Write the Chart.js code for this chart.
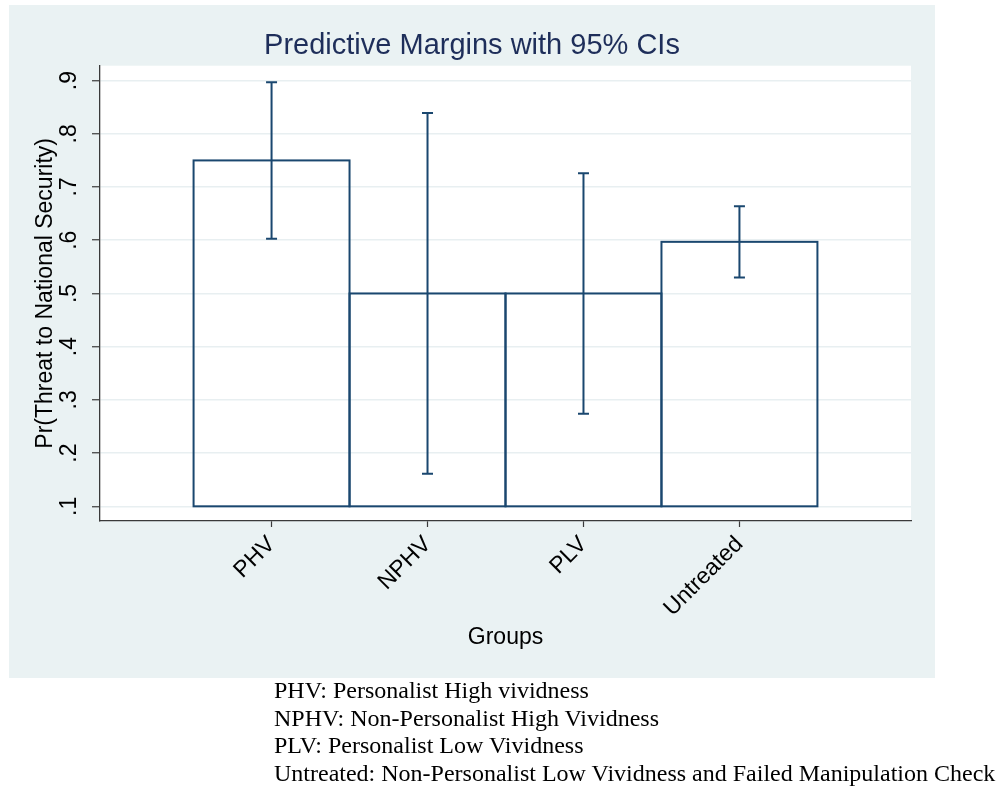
<!DOCTYPE html>
<html>
<head>
<meta charset="utf-8">
<script src="https://cdn.jsdelivr.net/npm/chart.js@4.4.0/dist/chart.umd.min.js"></script>
<style>
  html, body { margin: 0; padding: 0; background: #ffffff; }
  body { width: 999px; height: 789px; position: relative; overflow: hidden; }
  #wrap { position: absolute; left: 9px; top: 5px; width: 926px; height: 673px; background: #eaf2f3; }
  #wrap canvas { display: block; }
  #notes {
    position: absolute; left: 274px; top: 677px;
    font-family: 'Liberation Serif', 'Times New Roman', serif;
    font-size: 24px; line-height: 27.7px; color: #000; white-space: nowrap;
  }
</style>
</head>
<body>
<div id="wrap"><canvas id="chart" width="926" height="673"></canvas></div>
<div id="notes"></div>
<script>
// Predictive margins by treatment group, with 95% confidence limits
const groups  = ['PHV', 'NPHV', 'PLV', 'Untreated'];
const margins = [0.750, 0.500, 0.500, 0.597];
const ciLower = [0.603, 0.161, 0.274, 0.530];
const ciUpper = [0.897, 0.839, 0.726, 0.664];
const barBase = 0.1;
const yTicks  = [0.1, 0.2, 0.3, 0.4, 0.5, 0.6, 0.7, 0.8, 0.9];
const notes = [
  'PHV: Personalist High vividness',
  'NPHV: Non-Personalist High Vividness',
  'PLV: Personalist Low Vividness',
  'Untreated: Non-Personalist Low Vividness and Failed Manipulation Check'
];

document.getElementById('notes').innerHTML = notes.map(n => '<div>' + n + '</div>').join('');

const NAVY = '#1a476f';
const AXIS = '#3a3a3a';
const SANS = "'Liberation Sans', Arial, Helvetica, sans-serif";

// white plot region
const plotBackground = {
  id: 'plotBackground',
  beforeDraw(chart) {
    const { ctx, chartArea: a } = chart;
    ctx.save();
    ctx.fillStyle = '#ffffff';
    ctx.fillRect(a.left, a.top, a.right - a.left, a.bottom - a.top);
    ctx.restore();
  }
};

// hollow bar outlines and confidence-interval whiskers
const barsAndWhiskers = {
  id: 'barsAndWhiskers',
  afterDatasetsDraw(chart) {
    const { ctx } = chart;
    const xs = chart.scales.x, ys = chart.scales.y;
    const meta = chart.getDatasetMeta(0);
    ctx.save();
    ctx.strokeStyle = NAVY;
    ctx.lineWidth = 2;
    meta.data.forEach(bar => {
      const p = bar.getProps(['x', 'y', 'base', 'width'], true);
      const l = p.x - p.width / 2;
      ctx.strokeRect(l, p.y, p.width, p.base - p.y);
    });
    const cap = 5.5;
    groups.forEach((g, i) => {
      const x = xs.getPixelForValue(i + 1);
      const yl = ys.getPixelForValue(ciLower[i]);
      const yh = ys.getPixelForValue(ciUpper[i]);
      ctx.beginPath();
      ctx.moveTo(x, yl); ctx.lineTo(x, yh);
      ctx.moveTo(x - cap, yl); ctx.lineTo(x + cap, yl);
      ctx.moveTo(x - cap, yh); ctx.lineTo(x + cap, yh);
      ctx.stroke();
    });
    ctx.restore();
  }
};

new Chart(document.getElementById('chart'), {
  type: 'bar',
  data: {
    datasets: [{
      data: margins.map((m, i) => ({ x: i + 1, y: [barBase, m] })),
      backgroundColor: 'rgba(255,255,255,0)',
      borderWidth: 0,
      barPercentage: 1,
      categoryPercentage: 1
    }]
  },
  options: {
    responsive: false,
    animation: false,
    devicePixelRatio: 1,
    layout: { padding: { left: 12, right: 12, top: 0, bottom: 0 } },
    plugins: {
      legend: { display: false },
      tooltip: { enabled: false },
      title: {
        display: true,
        text: 'Predictive Margins with 95% CIs',
        color: '#1e2e5a',
        font: { family: SANS, size: 29, weight: 'normal' },
        padding: { top: 23.6, bottom: 2.3 }
      }
    },
    scales: {
      x: {
        type: 'linear',
        min: -0.1,
        max: 5.1,
        offset: false,
        afterBuildTicks: s => { s.ticks = groups.map((g, i) => ({ value: i + 1 })); },
        afterFit: s => { s.height = 157; s.paddingLeft = 0; s.paddingRight = 24; },
        grid: { display: true, offset: false, drawOnChartArea: false, tickLength: 6, tickColor: AXIS, tickWidth: 1.2 },
        border: { display: true, color: AXIS, width: 1.3 },
        ticks: {
          autoSkip: false, minRotation: 45, maxRotation: 45, padding: 4,
          color: '#000', font: { family: SANS, size: 23 },
          callback: v => groups[Math.round(v) - 1]
        },
        title: {
          display: true, text: 'Groups', color: '#000',
          font: { family: SANS, size: 23 }, padding: { top: 0, bottom: 27 }
        }
      },
      y: {
        type: 'linear',
        min: 0.0724,
        max: 0.928,
        afterBuildTicks: s => { s.ticks = yTicks.map(v => ({ value: v })); },
        afterFit: s => { s.width = 79; s.paddingTop = 0; s.paddingBottom = 0; },
        grid: { color: '#e8eff1', lineWidth: 1.5, tickLength: 8, tickColor: AXIS, tickWidth: 1.2 },
        border: { display: true, color: AXIS, width: 1.3 },
        ticks: {
          autoSkip: false, minRotation: 90, maxRotation: 90, crossAlign: 'center', padding: 12.6,
          color: '#000', font: { family: SANS, size: 23 },
          callback: v => v.toFixed(1).replace(/^0/, '')
        },
        title: {
          display: true, text: 'Pr(Threat to National Security)', color: '#000',
          font: { family: SANS, size: 23 }, padding: { top: 11.1, bottom: 0 }
        }
      }
    }
  },
  plugins: [plotBackground, barsAndWhiskers]
});
</script>
</body>
</html>
